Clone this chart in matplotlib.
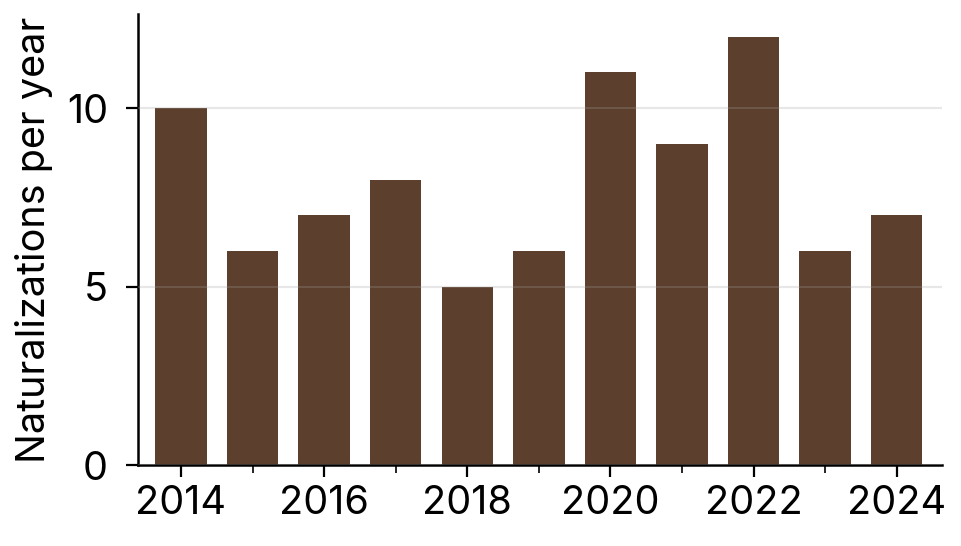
import numpy as np
import matplotlib.pyplot as plt
from matplotlib.ticker import MultipleLocator

years = [2014, 2015, 2016, 2017, 2018, 2019, 2020, 2021, 2022, 2023, 2024]
naturalizations = [10, 6, 7, 8, 5, 6, 11, 9, 12, 6, 7]

plt.rcParams['font.family'] = ['Inter', 'DejaVu Sans']

fig = plt.figure(figsize=(9.62, 5.46), dpi=100)
ax = fig.add_axes([0.1435, 0.148, 0.8355, 0.826])

ax.bar(years, naturalizations, width=0.72, color='#5c3f2c', zorder=2)

ax.set_xlim(2013.4, 2024.63)
ax.set_ylim(0, 12.63)
ax.xaxis.set_major_locator(MultipleLocator(2))
ax.xaxis.set_minor_locator(MultipleLocator(1))
ax.yaxis.set_major_locator(MultipleLocator(5))

# light grid drawn over the bars
ax.grid(axis='y', color='#a0a0a0', alpha=0.25, linewidth=1.5, zorder=3)
ax.set_axisbelow(False)

for side in ['top', 'right']:
    ax.spines[side].set_visible(False)
for side in ['left', 'bottom']:
    ax.spines[side].set_linewidth(1.8)

ax.tick_params(axis='both', which='major', labelsize=28.5, length=8.6, width=1.6)
ax.tick_params(axis='x', which='major', pad=6)
ax.tick_params(axis='y', which='major', pad=13)
ax.tick_params(axis='x', which='minor', length=5.5, width=1.2)
ax.set_ylabel('Naturalizations per year', fontsize=28.5, labelpad=10)

fig.savefig('out.png', dpi=100)
